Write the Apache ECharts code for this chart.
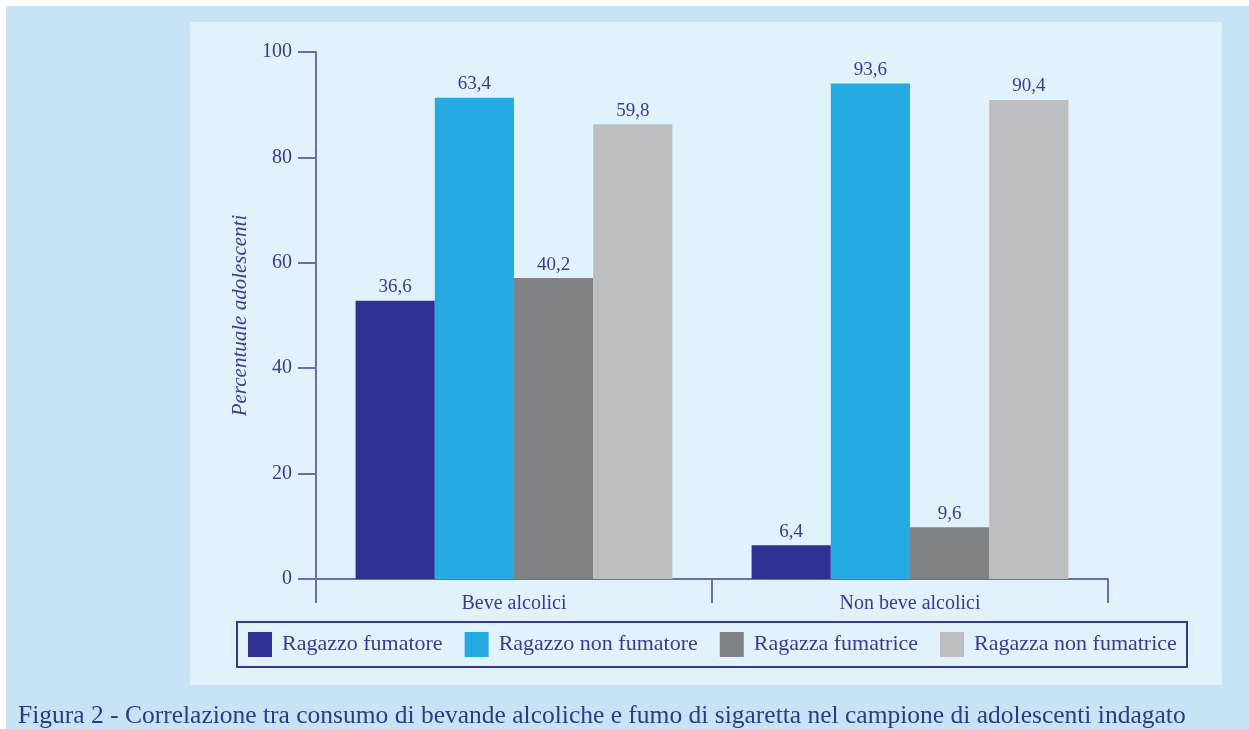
<!DOCTYPE html>
<html>
<head>
<meta charset="utf-8">
<script src="https://cdn.jsdelivr.net/npm/echarts@6/dist/echarts.min.js"></script>
<style>
  html, body { margin: 0; padding: 0; background: #c9e4f7; }
  #chart { width: 1249px; height: 729px; }
</style>
</head>
<body>
<div id="chart"></div>
<script>
  // categorie e serie
  var categories = ['Beve alcolici', 'Non beve alcolici'];
  var seriesNames = ['Ragazzo fumatore', 'Ragazzo non fumatore', 'Ragazza fumatrice', 'Ragazza non fumatrice'];
  // altezza delle barre (come disegnate)
  var ragazzoFumatore = [52.8, 6.4];
  var ragazzoNonFumatore = [91.3, 94.0];
  var ragazzaFumatrice = [57.1, 9.8];
  var ragazzaNonFumatrice = [86.3, 90.9];
  // etichette stampate sopra le barre
  var labRagazzoFumatore = ['36,6', '6,4'];
  var labRagazzoNonFumatore = ['63,4', '93,6'];
  var labRagazzaFumatrice = ['40,2', '9,6'];
  var labRagazzaNonFumatrice = ['59,8', '90,4'];
  var yTicks = [0, 20, 40, 60, 80, 100];

  var colors = ['#2e3192', '#25aae1', '#808285', '#bcbec0'];
  var serif = '"Liberation Serif", "DejaVu Serif", serif';
  var textColor = '#3b3b8e';
  var axisColor = '#6b6bb3';

  var values = [ragazzoFumatore, ragazzoNonFumatore, ragazzaFumatrice, ragazzaNonFumatrice];
  var labels = [labRagazzoFumatore, labRagazzoNonFumatore, labRagazzaFumatrice, labRagazzaNonFumatrice];

  var series = [];
  for (var k = 0; k < seriesNames.length; k++) {
    (function (k) {
      series.push({
        name: seriesNames[k],
        type: 'bar',
        barGap: 0,
        barCategoryGap: '20%',
        data: values[k],
        itemStyle: { color: colors[k] },
        label: {
          show: true,
          position: 'top',
          distance: 4,
          fontFamily: serif,
          fontSize: 19,
          color: textColor,
          formatter: function (p) { return labels[k][p.dataIndex]; }
        }
      });
    })(k);
  }

  var chart = echarts.init(document.getElementById('chart'));
  chart.setOption({
    backgroundColor: '#c8e3f6',
    animation: false,
    graphic: [
      // bordi bianchi del ritaglio
      { type: 'rect', z: -10, shape: { x: 0, y: 0, width: 1249, height: 6 }, style: { fill: '#ffffff' } },
      { type: 'rect', z: -10, shape: { x: 0, y: 0, width: 6, height: 729 }, style: { fill: '#ffffff' } },
      { type: 'rect', z: -10, shape: { x: 190, y: 22, width: 1032, height: 663 }, style: { fill: '#e0f2fc' } },
      { type: 'rect', z: -5, shape: { x: 237, y: 622, width: 950, height: 45 }, style: { fill: 'none', stroke: '#3a3a8c', lineWidth: 2 } }
    ],
    title: {
      text: 'Figura 2 - Correlazione tra consumo di bevande alcoliche e fumo di sigaretta nel campione di adolescenti indagato',
      left: 18,
      top: 703,
      padding: 0,
      textStyle: { fontFamily: serif, fontSize: 25.5, fontWeight: 'normal', color: '#2f3a82' }
    },
    legend: {
      data: seriesNames,
      left: 248,
      top: 632,
      padding: 0,
      itemWidth: 24,
      itemHeight: 25,
      itemGap: 22,
      icon: 'rect',
      textStyle: { fontFamily: serif, fontSize: 22, color: textColor, padding: [0, 0, 0, 5] }
    },
    grid: { left: 316, right: 141, top: 52, bottom: 150, containLabel: false },
    xAxis: {
      type: 'category',
      data: categories,
      axisLine: { lineStyle: { color: axisColor, width: 2 } },
      axisTick: { show: true, length: 24, lineStyle: { color: axisColor, width: 2 } },
      axisLabel: { fontFamily: serif, fontSize: 20, color: textColor, margin: 15 }
    },
    yAxis: {
      type: 'value',
      min: yTicks[0],
      max: yTicks[yTicks.length - 1],
      interval: yTicks[1] - yTicks[0],
      name: 'Percentuale adolescenti',
      nameLocation: 'middle',
      nameGap: 64,
      nameTextStyle: { fontFamily: serif, fontSize: 21, fontStyle: 'italic', color: textColor },
      splitLine: { show: false },
      axisLine: { show: true, lineStyle: { color: axisColor, width: 2 } },
      axisTick: { show: true, length: 18, lineStyle: { color: axisColor, width: 2 } },
      axisLabel: { fontFamily: serif, fontSize: 20, color: textColor, margin: 24 }
    },
    series: series
  });
</script>
</body>
</html>
